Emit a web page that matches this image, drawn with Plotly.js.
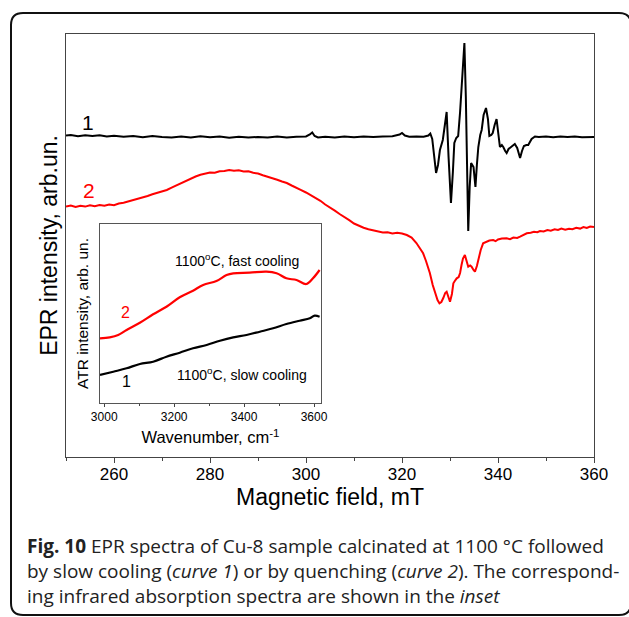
<!DOCTYPE html>
<html>
<head>
<meta charset="utf-8">
<script src="https://cdn.plot.ly/plotly-3.0.1.min.js"></script>
<style>
  html, body { margin: 0; padding: 0; background: #ffffff; }
  #chart { width: 629px; height: 617px; }
</style>
</head>
<body>
<div id="chart"></div>
<script>
// ---- Main EPR spectra (magnetic field, mT; intensity, arb. units) ----
const field1 = [250,251,252.5,254,255.5,257,258.5,260,262,264,266,268,270,272,274,276,278,280,282,284,286,288,290,292,294,296,298,300,300.8,301.3,301.8,302.5,304,306,308,310,312,314,316,318,319.5,320,320.6,321.5,323,324.5,325.5,325.9,326.3,326.7,327.1,327.5,327.9,328.5,328.9,329.3,329.7,330.2,330.6,330.9,331.3,331.7,332.1,332.4,332.7,333.0,333.3,333.5,333.8,334.1,334.4,334.9,335.3,335.6,335.9,336.3,336.6,337.0,337.5,337.9,338.2,338.6,338.9,339.3,339.7,340.1,340.4,340.8,341.1,341.5,341.8,342.2,342.5,343.0,343.5,344.0,344.6,345.0,345.4,345.9,346.3,347.0,347.7,348.5,350,351.5,353,354.5,356,357.5,359,360];
const epr1 = [321.5,322,320.8,321.8,321,321.7,320.5,321.3,320.2,321,319.8,320.9,320,319.5,320.6,319.6,320.8,319.7,320.5,319.2,320.3,319.4,320.1,319.6,320.4,319.5,320.2,320.5,322.5,324.5,321,319.5,320.3,319.6,320.4,319.8,320.6,319.9,320.5,320.8,322.5,324,321.5,320.3,320.6,320.2,321.5,323.5,318,300,284,292,307,317,332,345,300,254,285,314,319,321,345,370,395,414,360,304,226,270,294,290,270,292,310,322,327,342,349,338,321,322,324,332,338,322,310,312,310,306,304,308,309,311,313,309,299,306,311,312,312,318,320.5,320,320.5,319.8,320.6,319.9,320.4,319.7,320.3,320];

const field2 = [250,251,252,253,254,255,256,257,258,259,260,261,262,263,264,265,266,267,268,269,270,271,272,273,274,275,276,277,278,279,280,281,282,283,284,285,286,287,288,289,290,291,292,293,294,295,296,297,298,299,300,301,302,303,304,305,306,307,308,309,310,311,312,313,314,315,316,317,318,319,320,321,322,323,323.8,324.4,325,325.8,326.4,326.9,327.4,327.8,328.2,328.6,329.0,329.3,329.6,330.0,330.4,330.7,331.0,331.4,331.8,332.1,332.4,332.7,333.1,333.5,333.8,334.2,334.5,334.9,335.2,335.6,335.9,336.4,336.9,337.5,338.2,339.0,339.5,340,340.8,341.8,342.5,343.2,344,344.6,345.3,346,346.8,347.5,348.2,348.75,349.5,350.3,351,351.8,352.5,353.2,354,354.8,355.5,356.3,357.1,357.8,358.5,359.2,360];
const epr2 = [250.5,251.5,250,251.2,250.4,251.8,250.8,252,251.2,252.5,251.8,253.5,254.3,255.5,256.8,258.5,259.8,261,262.8,264,265.8,267,269.3,271.5,274,276.5,278.8,280.5,282.3,283.3,284.5,284.2,285.8,286,287,286.2,286.8,285.5,285.8,284.2,283.5,281.8,280.5,279,277.3,275.5,274,271.5,269.5,266.8,264.5,262,259.3,256.2,252.5,249,246.3,243,239.5,236.8,233.5,231,229.3,227.8,226.5,225.8,224.5,224.8,223.6,224.2,223.5,222,219.5,214,208,203.7,196,184,172,164,157,153.7,155,159,164,165.3,160,155.3,163,173.7,176,178.7,180,184,192,198.5,202,195,190.3,191.5,190.3,187,185.3,191,197,207,213.7,215,216.5,217,215.8,217.5,218.5,218.7,217.8,219.5,219,220.3,222,223.7,224.3,225.2,224.8,226,225.5,227,226.3,227.8,227,228.5,227.4,228.3,227.8,229.2,228.4,230,229,230.5,230];

// ---- Inset ATR spectra (wavenumber, cm-1; intensity, arb. units) ----
const wn2 = [2988,3016,3040,3064,3102,3140,3178,3216,3254,3283,3321,3350,3369,3416,3464,3493,3521,3550,3578,3597,3616];
const atr2 = [64.7,65.7,68,73,80.3,88.7,96.3,105.7,112.3,118,122,128,129.7,130.3,131.3,129.7,124.7,123,119,124.7,133];
const wn1 = [2988,3026,3064,3102,3140,3178,3216,3254,3293,3331,3369,3407,3445,3483,3521,3559,3588,3602,3616];
const atr1 = [28,31.3,34.7,39,41.3,46.3,50.3,54.7,58,62.3,65.7,68,71.3,74.7,79,82.3,84.7,87.3,86.3];

const mainTicks = [260,280,300,320,340,360];
const insetTicks = [3000,3200,3400,3600];

// pixel helpers for paper coordinates (plot area: x 66..594, y 34..457)
const PL = 66, PR = 594, PT = 34, PB = 457;
const px = v => (v - PL) / (PR - PL);
const py = v => (PB - v) / (PB - PT);

const FONT = 'Liberation Sans, Arial, sans-serif';
const CAP = 'Open Sans, Noto Sans, sans-serif';

const traces = [
  {x: field1, y: epr1, type: 'scatter', mode: 'lines', line: {color: '#000000', width: 2}, xaxis: 'x', yaxis: 'y', hoverinfo: 'skip'},
  {x: field2, y: epr2, type: 'scatter', mode: 'lines', line: {color: '#ff0000', width: 2}, xaxis: 'x', yaxis: 'y', hoverinfo: 'skip'},
  {x: wn2, y: atr2, type: 'scatter', mode: 'lines', line: {color: '#ff0000', width: 2.2, shape: 'spline'}, xaxis: 'x2', yaxis: 'y2', hoverinfo: 'skip'},
  {x: wn1, y: atr1, type: 'scatter', mode: 'lines', line: {color: '#000000', width: 2.2, shape: 'spline'}, xaxis: 'x2', yaxis: 'y2', hoverinfo: 'skip'}
];

// rounded frame path in paper coordinates
const bl = px(11), br = px(631), bt = py(13), bb = py(615);
const rx = 12 / (PR - PL), ry = 12 / (PB - PT);
const framePath = `M ${bl} ${bb + ry} L ${bl} ${bt - ry} Q ${bl} ${bt} ${bl + rx} ${bt} L ${br - rx} ${bt} Q ${br} ${bt} ${br} ${bt - ry} L ${br} ${bb + ry} Q ${br} ${bb} ${br - rx} ${bb} L ${bl + rx} ${bb} Q ${bl} ${bb} ${bl} ${bb + ry} Z`;

const layout = {
  width: 629, height: 617,
  margin: {l: PL, r: 629 - PR, t: PT, b: 617 - PB, pad: 0},
  paper_bgcolor: '#ffffff', plot_bgcolor: 'rgba(0,0,0,0)',
  showlegend: false,
  font: {family: FONT, color: '#000000'},
  xaxis: {
    range: [250, 360], domain: [0, 1], anchor: 'y',
    tickvals: mainTicks, ticks: 'outside', ticklen: 5, tickwidth: 1, tickcolor: '#444',
    minor: {dtick: 10, tick0: 250, ticks: 'outside', ticklen: 3, tickcolor: '#444'},
    showline: true, mirror: true, linecolor: '#444', linewidth: 1.3,
    showgrid: false, zeroline: false,
    tickfont: {size: 17, family: FONT}, ticklabelstandoff: -4,
    title: {text: 'Magnetic field, mT', font: {size: 23, family: FONT}, standoff: 1}
  },
  yaxis: {
    range: [0, 423], domain: [0, 1], anchor: 'x',
    showticklabels: false, ticks: '',
    showline: true, mirror: true, linecolor: '#444', linewidth: 1.3,
    showgrid: false, zeroline: false,
    title: {text: 'EPR intensity, arb.un.', font: {size: 23, family: FONT}, standoff: 0}
  },
  xaxis2: {
    range: [2988, 3620], domain: [px(100), px(321)], anchor: 'y2',
    tickvals: insetTicks, ticks: 'outside', ticklen: 3, tickcolor: '#444',
    minor: {dtick: 100, tick0: 3000, ticks: 'outside', ticklen: 2, tickcolor: '#444'},
    showline: true, mirror: true, linecolor: '#555', linewidth: 1,
    showgrid: false, zeroline: false,
    tickfont: {size: 12, family: FONT},
    title: {text: 'Wavenumber, cm<sup>-1</sup>', font: {size: 16.5, family: FONT}, standoff: 8}
  },
  yaxis2: {
    range: [0, 179], domain: [py(403), py(224)], anchor: 'x2',
    showticklabels: false, ticks: '',
    showline: true, mirror: true, linecolor: '#555', linewidth: 1,
    showgrid: false, zeroline: false,
    title: {text: 'ATR intensity, arb. un.', font: {size: 15.5, family: FONT}, standoff: 6}
  },
  shapes: [
    {type: 'rect', xref: 'paper', yref: 'paper', x0: px(100), x1: px(321), y0: py(403), y1: py(224), fillcolor: '#ffffff', line: {width: 0}, layer: 'below'},
    {type: 'path', xref: 'paper', yref: 'paper', path: framePath, line: {color: '#111111', width: 2}, fillcolor: 'rgba(0,0,0,0)', layer: 'above'}
  ],
  annotations: [
    {x: 254.6, y: 335, xref: 'x', yref: 'y', text: '1', showarrow: false, font: {size: 21, color: '#000000', family: FONT}},
    {x: 254.8, y: 267, xref: 'x', yref: 'y', text: '2', showarrow: false, font: {size: 21, color: '#ff0000', family: FONT}},
    {x: 3061, y: 90.3, xref: 'x2', yref: 'y2', text: '2', showarrow: false, font: {size: 16, color: '#ff0000', family: FONT}},
    {x: 3064, y: 21.3, xref: 'x2', yref: 'y2', text: '1', showarrow: false, font: {size: 16, color: '#000000', family: FONT}},
    {x: 3379, y: 143, xref: 'x2', yref: 'y2', text: '1100<sup>o</sup>C, fast cooling', showarrow: false, font: {size: 14, color: '#000000', family: FONT}},
    {x: 3393, y: 29, xref: 'x2', yref: 'y2', text: '1100<sup>o</sup>C, slow cooling', showarrow: false, font: {size: 14, color: '#000000', family: FONT}},
    {x: px(25), y: py(546), xref: 'paper', yref: 'paper', xanchor: 'left', yanchor: 'middle', showarrow: false, align: 'left',
     text: '<b>Fig. 10</b> EPR spectra of Cu-8 sample calcinated at 1100 °C followed', font: {size: 19, color: '#222222', family: CAP}},
    {x: px(25), y: py(571), xref: 'paper', yref: 'paper', xanchor: 'left', yanchor: 'middle', showarrow: false, align: 'left',
     text: 'by slow cooling (<i>curve 1</i>) or by quenching (<i>curve 2</i>). The correspond-', font: {size: 19, color: '#222222', family: CAP}},
    {x: px(25), y: py(596), xref: 'paper', yref: 'paper', xanchor: 'left', yanchor: 'middle', showarrow: false, align: 'left',
     text: 'ing infrared absorption spectra are shown in the <i>inset</i>', font: {size: 19, color: '#222222', family: CAP}}
  ]
};

Plotly.newPlot('chart', traces, layout, {staticPlot: true, displayModeBar: false});
</script>
</body>
</html>
